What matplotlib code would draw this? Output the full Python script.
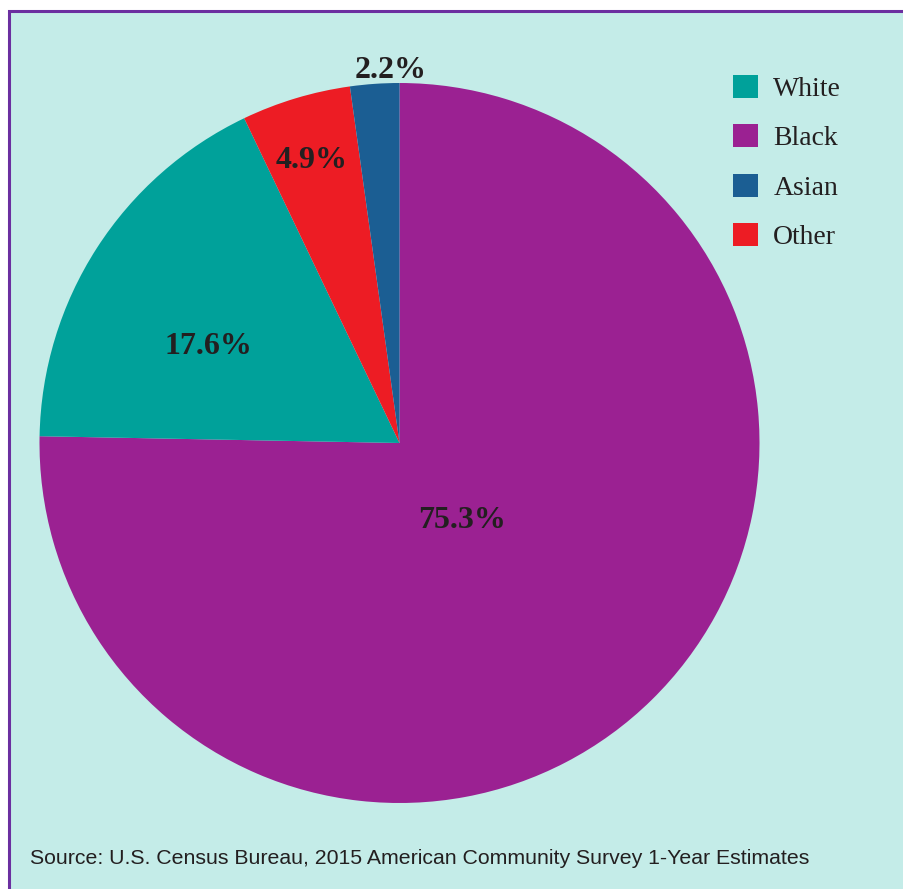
import matplotlib.pyplot as plt
from matplotlib.patches import Rectangle, Patch

# slices drawn clockwise from 12 o'clock
groups = ['Black', 'White', 'Other', 'Asian']
shares = [75.3, 17.6, 4.9, 2.2]
colors = {'White': '#00A19A', 'Black': '#9B2192', 'Asian': '#1B5E93', 'Other': '#ED1C24'}
legend_order = ['White', 'Black', 'Asian', 'Other']
source = 'Source: U.S. Census Bureau, 2015 American Community Survey 1-Year Estimates'

W, H = 904, 889
fig = plt.figure(figsize=(W / 100, H / 100), dpi=100, facecolor='white')
ax = fig.add_axes([0, 0, 1, 1])

# panel background with purple frame
ax.add_patch(Rectangle((9, -20), 940, H - 11 + 20, facecolor='#C4ECE8',
                       edgecolor='#6B2FA0', linewidth=2.2, zorder=0))

cx, cy, r = 399.5, H - 443, 360
wedges, _ = ax.pie(shares, colors=[colors[g] for g in groups], startangle=90,
                   counterclock=False, radius=r, center=(cx, cy),
                   wedgeprops=dict(edgecolor='none', linewidth=0), frame=True)
ax.set_xlim(0, W)
ax.set_ylim(0, H)
ax.set_aspect('equal')
ax.axis('off')

# percent labels (placed by hand like the original)
label_pos = {'Black': (462, 521), 'White': (208, 346), 'Other': (312, 160), 'Asian': (391, 70)}
for g, s in zip(groups, shares):
    x, y = label_pos[g]
    ax.text(x, H - y, f'{s}%', ha='center', va='center', fontsize=23,
            fontweight='bold', family='Liberation Serif', color='#231F20')

handles = [Patch(facecolor=colors[g], edgecolor='none') for g in legend_order]
leg = ax.legend(handles, legend_order, loc='upper left',
                bbox_to_anchor=(733 / W, 1 - 75 / H), frameon=False,
                prop={'family': 'Liberation Serif', 'size': 20},
                handlelength=0.9, handleheight=0.9, handletextpad=0.55,
                labelspacing=0.8, borderpad=0, borderaxespad=0)
for t in leg.get_texts():
    t.set_color('#231F20')

ax.text(30, H - 859, source, ha='left', va='center', fontsize=15.3,
        family='Liberation Sans', color='#231F20')

fig.savefig('out.png', dpi=100, facecolor='white')
